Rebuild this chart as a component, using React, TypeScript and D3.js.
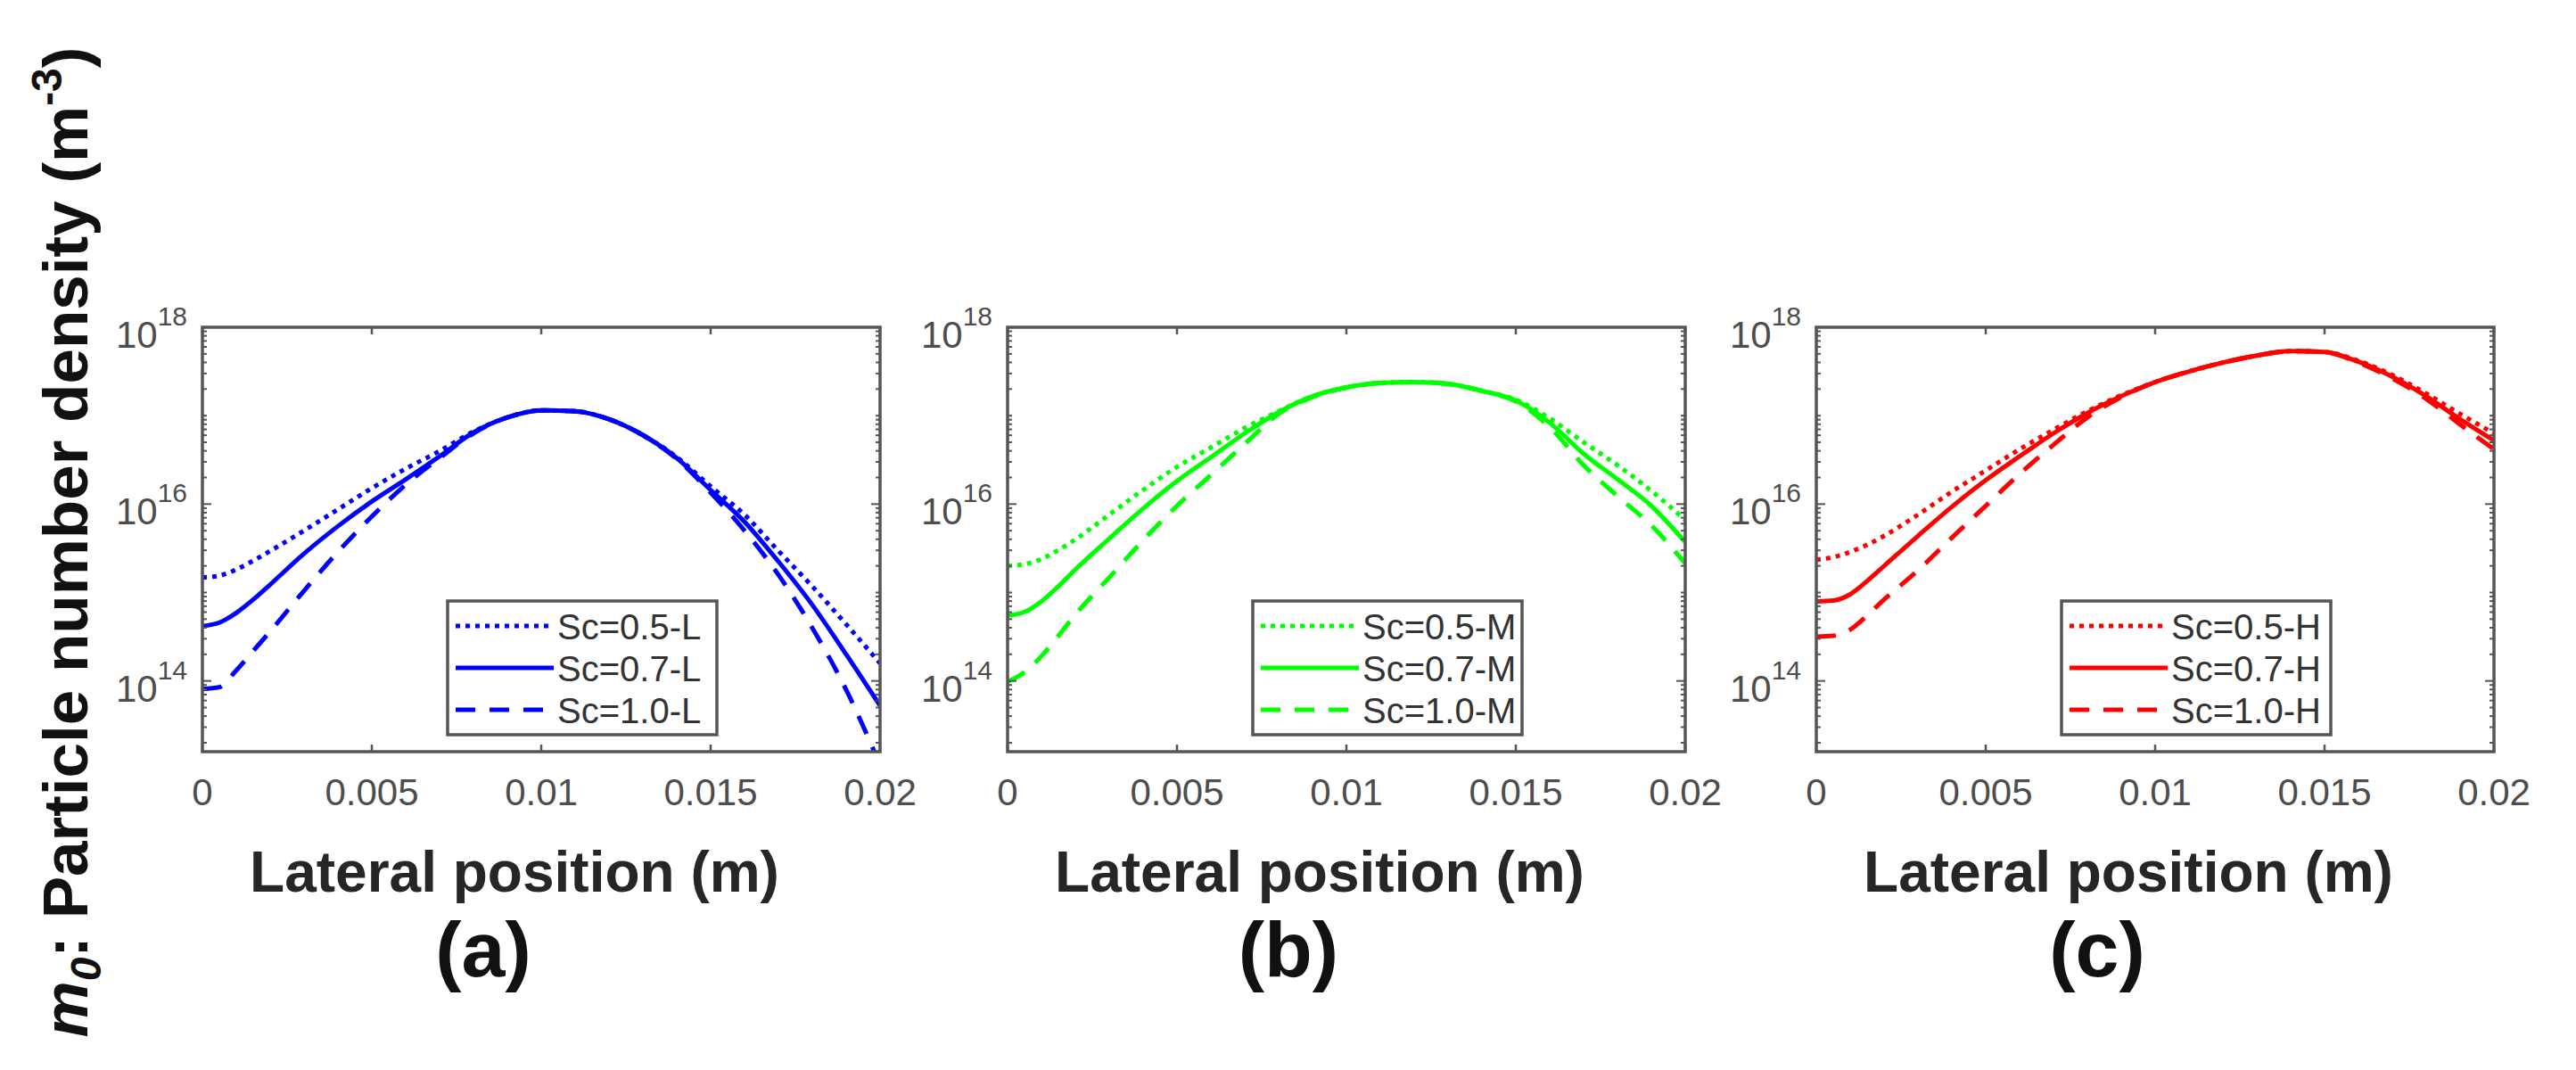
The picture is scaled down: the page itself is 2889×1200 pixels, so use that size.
import React, { useEffect, useRef } from 'react'
import * as d3 from 'd3'

// lateral positions (m), shared by every curve
const xGrid = [0, 0.0005, 0.001, 0.0015, 0.002, 0.003, 0.004, 0.005, 0.006, 0.007, 0.008, 0.009, 0.01,
  0.011, 0.012, 0.013, 0.014, 0.015, 0.016, 0.017, 0.018, 0.019, 0.02]

// log10 of particle number density (m^-3)
const lowSc05 = [15.17, 15.19, 15.26, 15.36, 15.47, 15.70, 15.94, 16.18, 16.40, 16.60, 16.82, 16.98, 17.06, 17.05, 16.96, 16.78, 16.53, 16.20, 15.88, 15.47, 15.07, 14.64, 14.20]
const lowSc07 = [14.62, 14.66, 14.77, 14.92, 15.09, 15.44, 15.75, 16.03, 16.28, 16.54, 16.81, 16.98, 17.06, 17.05, 16.96, 16.78, 16.52, 16.16, 15.80, 15.35, 14.86, 14.30, 13.72]
const lowSc10 = [13.91, 13.93, 14.12, 14.34, 14.56, 15.02, 15.46, 15.86, 16.22, 16.52, 16.80, 16.98, 17.06, 17.05, 16.96, 16.78, 16.51, 16.13, 15.70, 15.20, 14.60, 13.90, 13.05]

const midSc05 = [15.30, 15.32, 15.38, 15.48, 15.60, 15.88, 16.16, 16.42, 16.64, 16.86, 17.05, 17.22, 17.32, 17.37, 17.38, 17.36, 17.28, 17.18, 16.97, 16.70, 16.44, 16.15, 15.82]
const midSc07 = [14.74, 14.78, 14.90, 15.07, 15.26, 15.61, 15.95, 16.26, 16.53, 16.80, 17.04, 17.22, 17.32, 17.37, 17.38, 17.36, 17.28, 17.17, 16.92, 16.57, 16.28, 15.98, 15.57]
const midSc10 = [13.99, 14.10, 14.28, 14.51, 14.75, 15.17, 15.59, 15.98, 16.33, 16.68, 17.02, 17.21, 17.32, 17.37, 17.38, 17.36, 17.28, 17.16, 16.87, 16.44, 16.09, 15.76, 15.33]

const highSc05 = [15.37, 15.40, 15.46, 15.54, 15.64, 15.88, 16.14, 16.38, 16.62, 16.84, 17.05, 17.23, 17.38, 17.50, 17.60, 17.68, 17.73, 17.72, 17.62, 17.46, 17.25, 17.02, 16.80]
const highSc07 = [14.90, 14.91, 14.98, 15.13, 15.30, 15.64, 15.97, 16.27, 16.54, 16.80, 17.03, 17.22, 17.38, 17.50, 17.60, 17.68, 17.73, 17.72, 17.61, 17.44, 17.22, 16.96, 16.72]
const highSc10 = [14.50, 14.51, 14.58, 14.74, 14.92, 15.25, 15.62, 15.98, 16.34, 16.67, 16.98, 17.21, 17.38, 17.50, 17.60, 17.68, 17.73, 17.72, 17.60, 17.42, 17.19, 16.90, 16.62]

const scLabels = ['Sc=0.5', 'Sc=0.7', 'Sc=1.0']
const caseTags = ['L', 'M', 'H']
const panelLetters = ['(a)', '(b)', '(c)']
const panelColors = ['#0000ff', '#00ff00', '#ff0000']
const panelSeries = [
  [lowSc05, lowSc07, lowSc10],
  [midSc05, midSc07, midSc10],
  [highSc05, highSc07, highSc10],
]
const xTicks = [0, 0.005, 0.01, 0.015, 0.02]
const xTickLabels = ['0', '0.005', '0.01', '0.015', '0.02']
const yTickExps = [14, 16, 18]

const dashes = ['5 6', null, '22 16']
const FONT = '"Liberation Sans", Arial, Helvetica, sans-serif'

export default function App() {
  const ref = useRef<SVGSVGElement | null>(null)

  useEffect(() => {
    const svg = d3.select(ref.current!)
    svg.selectAll('*').remove()

    const panelLeft = [227, 1130, 2037]
    const top = 367
    const pw = 760
    const ph = 476
    const frame = '#555555'

    const x = d3.scaleLinear().domain([0, 0.02]).range([0, pw])
    const y = d3.scaleLog().domain([Math.pow(10, 13.2), 1e18]).range([ph, 0])

    const line = d3.line<number>()
      .x((_, i) => x(xGrid[i]))
      .y(d => y(Math.pow(10, d)))
      .curve(d3.curveMonotoneX)

    panelSeries.forEach((series, p) => {
      const g = svg.append('g').attr('transform', `translate(${panelLeft[p]},${top})`)
      const color = panelColors[p]

      g.append('clipPath').attr('id', `clip${p}`)
        .append('rect').attr('width', pw).attr('height', ph)

      // curves
      series.forEach((vals, s) => {
        g.append('path')
          .attr('d', line(vals))
          .attr('fill', 'none')
          .attr('stroke', color)
          .attr('stroke-width', 5)
          .attr('stroke-dasharray', dashes[s])
          .attr('clip-path', `url(#clip${p})`)
      })

      // y ticks (log, major + minor) on both sides
      for (let e = 13; e < 18; e++) {
        for (let k = 1; k <= 9; k++) {
          const v = k * Math.pow(10, e)
          if (v < y.domain()[0] || v > 1e18) continue
          const major = k === 1 && e % 2 === 0
          const len = major ? 10 : 5
          const yy = y(v)
          g.append('line').attr('x1', 0).attr('x2', len).attr('y1', yy).attr('y2', yy)
            .attr('stroke', frame).attr('stroke-width', 2)
          g.append('line').attr('x1', pw).attr('x2', pw - len).attr('y1', yy).attr('y2', yy)
            .attr('stroke', frame).attr('stroke-width', 2)
        }
      }

      // x ticks top and bottom
      xTicks.forEach(t => {
        g.append('line').attr('x1', x(t)).attr('x2', x(t)).attr('y1', ph).attr('y2', ph - 8)
          .attr('stroke', frame).attr('stroke-width', 2.5)
        g.append('line').attr('x1', x(t)).attr('x2', x(t)).attr('y1', 0).attr('y2', 8)
          .attr('stroke', frame).attr('stroke-width', 2.5)
      })

      // frame
      g.append('rect').attr('width', pw).attr('height', ph)
        .attr('fill', 'none').attr('stroke', frame).attr('stroke-width', 3.5)

      // x tick labels
      g.selectAll('text.xt').data(xTicks).enter().append('text')
        .attr('class', 'xt')
        .attr('x', d => x(d)).attr('y', ph + 60)
        .attr('text-anchor', 'middle')
        .attr('font-family', FONT).attr('font-size', 42).attr('fill', '#4d4d4d')
        .text((_, i) => xTickLabels[i])

      // y tick labels 10^n
      yTickExps.forEach(e => {
        const t = g.append('text')
          .attr('x', -17).attr('y', y(Math.pow(10, e)) + 23)
          .attr('text-anchor', 'end')
          .attr('font-family', FONT).attr('fill', '#4d4d4d')
        t.append('tspan').attr('font-size', 42).text('10')
        t.append('tspan').attr('font-size', 30).attr('dy', -25).text(String(e))
      })

      // legend
      const lg = g.append('g').attr('transform', 'translate(275,307)')
      lg.append('rect').attr('width', 302).attr('height', 150)
        .attr('fill', '#fff').attr('stroke', frame).attr('stroke-width', 3.5)
      scLabels.forEach((lab, s) => {
        const ry = 28 + s * 47
        lg.append('line').attr('x1', 9).attr('x2', 119).attr('y1', ry).attr('y2', ry)
          .attr('stroke', color).attr('stroke-width', 5)
          .attr('stroke-dasharray', dashes[s])
        lg.append('text').attr('x', 123).attr('y', ry + 15)
          .attr('font-family', FONT).attr('font-size', 40).attr('fill', '#333')
          .text(`${lab}-${caseTags[p]}`)
      })

      // axis title and panel letter
      g.append('text').attr('x', pw / 2 - 30).attr('y', 633)
        .attr('text-anchor', 'middle')
        .attr('font-family', FONT).attr('font-size', 64).attr('font-weight', 700).attr('fill', '#262626')
        .text('Lateral position (m)')
      g.append('text').attr('x', pw / 2 - 65).attr('y', 728)
        .attr('text-anchor', 'middle')
        .attr('font-family', FONT).attr('font-size', 88).attr('font-weight', 700).attr('fill', '#111')
        .text(panelLetters[p])
    })

    // shared y title
    const yt = svg.append('text')
      .attr('transform', 'translate(98,608) rotate(-90)')
      .attr('text-anchor', 'middle')
      .attr('font-family', FONT).attr('font-size', 71).attr('font-weight', 700).attr('fill', '#111')
    yt.append('tspan').attr('font-style', 'italic').text('m')
    yt.append('tspan').attr('font-style', 'italic').attr('font-size', 48).attr('dy', 15).text('0')
    yt.append('tspan').attr('dy', -15).text(': Particle number density (m')
    yt.append('tspan').attr('font-size', 48).attr('dy', -29).text('-3')
    yt.append('tspan').attr('dy', 29).text(')')
  }, [])

  return (
    <svg ref={ref} width={2889} height={1200}
      style={{ position: 'absolute', left: 0, top: 0, background: '#fff' }} />
  )
}
